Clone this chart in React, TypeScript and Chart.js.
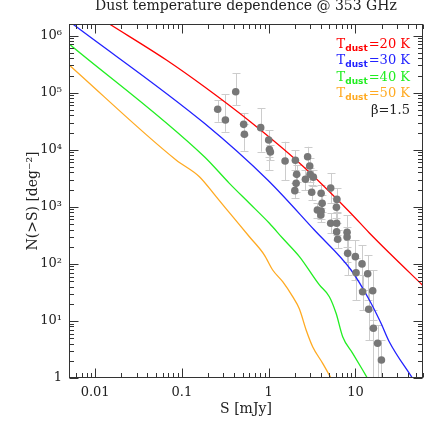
import React, { useEffect, useRef } from 'react';
import { Chart, registerables } from 'chart.js';

Chart.register(...registerables);

const TITLE = 'Dust temperature dependence @ 353 GHz';
const X_LABEL = 'S [mJy]';
const Y_LABEL = 'N(>S) [deg⁻²]';
const X_MIN = 0.005;
const X_MAX = 60;
const Y_MIN = 1;
const Y_MAX = 1.6e6;
const X_TICKS = [0.01, 0.1, 1, 10];
const X_TICK_LABELS = ['0.01', '0.1', '1', '10'];
const Y_TICKS = [1, 10, 100, 1e3, 1e4, 1e5, 1e6];
const Y_TICK_LABELS = ['1', '10¹', '10²', '10³', '10⁴', '10⁵', '10⁶'];

// Model curves
const red_S = [0.0146, 0.0663, 0.1816, 0.5995, 2.26, 8.5, 14.46, 24.6, 59];
const red_N = [1.6e6, 3.74e5, 1.27e5, 3.19e4, 5.86e3, 821, 348, 155, 42.6];

const blue_S = [0.00552, 0.1816, 0.974, 3.36, 8.9, 14.45, 19.7, 24.5, 45.2];
const blue_N = [1.6e6, 2.91e4, 2.95e3, 392, 78.1, 23.3, 9.1, 4.33, 1];

const green_S = [0.00492, 0.1816, 0.3525, 0.5995, 1.019, 1.45, 2.26, 3.84, 5.0, 5.98, 7.12, 9.29, 12.1, 13.7];
const green_N = [7.34e5, 7.56e3, 2.58e3, 1153, 514, 281, 134, 42.7, 26.6, 13.6, 5.3, 2.71, 1.38, 1];

const orange_S = [0.00492, 0.0857, 0.159, 0.248, 0.385, 0.5995, 0.892, 1.112, 1.45, 1.89, 2.26, 2.7, 3.21, 4.19, 5.23];
const orange_N = [3.15e5, 6.62e3, 3.37e3, 1505, 671, 299, 143, 78.1, 48.7, 26.6, 16.2, 6.94, 3.54, 1.81, 1];

// Observed counts with error bars
const obs_S = [0.2585, 0.317, 0.417, 0.515, 0.525, 0.809, 1.0, 1.02, 1.046, 1.545, 2.03, 2.10, 2.07, 2.00, 2.81, 2.97, 2.65, 3.0, 3.27, 3.13, 4.02, 4.13, 3.64, 4.02, 3.99, 5.18, 6.11, 6.03, 5.18, 6.07, 6.07, 6.24, 8.0, 8.0, 8.13, 9.97, 11.9, 10.16, 13.82, 12.1, 15.8, 14.2, 16.1, 18.0, 19.9];
const obs_N = [5.12e4, 3.32e4, 1.04e5, 2.79e4, 1.87e4, 2.44e4, 1.48e4, 1.01e4, 9.14e3, 6.35e3, 6.54e3, 3.71e3, 2.58e3, 1.92e3, 7.56e3, 5.19e3, 3.05e3, 3.71e3, 3.31e3, 1.80e3, 1.73e3, 1.15e3, 880, 845, 719, 2.14e3, 1.35e3, 981, 514, 514, 366, 270, 359, 296, 153, 134, 100, 70, 67.3, 32.5, 33.9, 16, 7.43, 4.06, 2.07];
const obs_lo = [3.10e4, 2.07e4, 6.09e4, 1.81e4, 9.63e3, 9.25e3, 7.56e3, 4.42e3, 6.62e3, 2.95e3, 4.42e3, 2.72e3, 1.82e3, 1.43e3, 5.05e3, 3.61e3, 1.97e3, 2.72e3, 2.32e3, 1.32e3, 1.17e3, 812, 637, 620, 542, 1.17e3, 779, 637, 348, 321, 262, 190, 108, 200, 63.8, 52.2, 34.9, 23.3, 23.3, 15.6, 10.4, 4.63, 0.5, 0.5, 0.5];
const obs_hi = [7.45e4, 9.38e4, 2.21e5, 4.35e4, 2.83e4, 5.33e4, 2.22e4, 1.48e4, 1.21e4, 1.38e4, 9.9e3, 5.41e3, 3.61e3, 2.61e3, 1.13e4, 7.18e3, 4.42e3, 4.79e3, 4.42e3, 2.41e3, 2.41e3, 1.61e3, 1.17e3, 1.1e3, 953, 3.92e3, 2.14e3, 1.43e3, 779, 812, 520, 392, 719, 450, 262, 262, 214, 127, 143, 63.8, 78.1, 34.9, 15.6, 8.49, 4.63];

const LEGEND_TEMPS = ['20 K', '30 K', '40 K', '50 K'];
const LEGEND_COLORS = ['#ff0000', '#2222ff', '#22ee22', '#ffaa22'];
const BETA_TEXT = 'β=1.5';

const SERIF = '"DejaVu Serif", serif';

const toPts = (xs: number[], ys: number[]) => xs.map((x, i) => ({ x, y: ys[i] }));

const errorBars = {
  id: 'errorBars',
  beforeDatasetsDraw(chart: any) {
    const { ctx, chartArea: a, scales } = chart;
    const xs = scales.x, ys = scales.y;
    ctx.save();
    ctx.beginPath();
    ctx.rect(a.left, a.top, a.right - a.left, a.bottom - a.top);
    ctx.clip();
    ctx.strokeStyle = '#cccccc';
    ctx.lineWidth = 1;
    for (let i = 0; i < obs_S.length; i++) {
      const px = Math.round(xs.getPixelForValue(obs_S[i])) + 0.5;
      const p1 = ys.getPixelForValue(obs_lo[i]);
      const p2 = ys.getPixelForValue(obs_hi[i]);
      ctx.beginPath();
      ctx.moveTo(px, p1);
      ctx.lineTo(px, p2);
      ctx.moveTo(px - 4, Math.round(p1) + 0.5);
      ctx.lineTo(px + 4, Math.round(p1) + 0.5);
      ctx.moveTo(px - 4, Math.round(p2) + 0.5);
      ctx.lineTo(px + 4, Math.round(p2) + 0.5);
      ctx.stroke();
    }
    ctx.restore();
  },
};

const frameTicks = {
  id: 'frameTicks',
  afterDraw(chart: any) {
    const { ctx, chartArea: a, scales } = chart;
    const xs = scales.x, ys = scales.y;
    const L = Math.round(a.left) + 0.5, R = Math.round(a.right) - 0.5;
    const T = Math.round(a.top) + 0.5, B = Math.round(a.bottom) - 0.5;
    ctx.save();
    ctx.strokeStyle = '#333333';
    ctx.lineWidth = 1;
    ctx.strokeRect(L, T, R - L, B - T);
    ctx.beginPath();
    const decades = (mn: number, mx: number) => {
      const out: [number, boolean][] = [];
      for (let k = Math.floor(Math.log10(mn)); k <= Math.ceil(Math.log10(mx)); k++) {
        for (let m = 1; m <= 9; m++) {
          const v = m * Math.pow(10, k);
          if (v >= mn * 0.999 && v <= mx * 1.001) out.push([v, m === 1]);
        }
      }
      return out;
    };
    for (const [v, major] of decades(X_MIN, X_MAX)) {
      const px = Math.round(xs.getPixelForValue(v)) + 0.5;
      const len = major ? 9 : 4.5;
      ctx.moveTo(px, B); ctx.lineTo(px, B - len);
      ctx.moveTo(px, T); ctx.lineTo(px, T + len);
    }
    for (const [v, major] of decades(Y_MIN, Y_MAX)) {
      const py = Math.round(ys.getPixelForValue(v)) + 0.5;
      const len = major ? 9 : 4.5;
      ctx.moveTo(L, py); ctx.lineTo(L + len, py);
      ctx.moveTo(R, py); ctx.lineTo(R - len, py);
    }
    ctx.stroke();

    // Legend
    const right = 410;
    let base = 47.5;
    const big = '13px ' + SERIF;
    const sub = 'bold 9px "DejaVu Sans", sans-serif';
    ctx.textBaseline = 'alphabetic';
    ctx.textAlign = 'left';
    for (let i = 0; i < LEGEND_TEMPS.length; i++) {
      const t1 = 'T', t2 = 'dust', t3 = '=' + LEGEND_TEMPS[i];
      ctx.font = big; const w1 = ctx.measureText(t1).width; const w3 = ctx.measureText(t3).width;
      ctx.font = sub; const w2 = ctx.measureText(t2).width;
      let x = right - (w1 + w2 + w3 + 1);
      ctx.fillStyle = LEGEND_COLORS[i];
      ctx.font = big; ctx.fillText(t1, x, base); x += w1;
      ctx.font = sub; ctx.fillText(t2, x, base + 3); x += w2 + 1;
      ctx.font = big; ctx.fillText(t3, x, base);
      base += 16.5;
    }
    ctx.font = big;
    ctx.fillStyle = '#222222';
    ctx.textAlign = 'right';
    ctx.fillText(BETA_TEXT, right, base);
    ctx.restore();
  },
};

export default function App() {
  const ref = useRef<HTMLCanvasElement | null>(null);
  useEffect(() => {
    if (!ref.current) return;
    const curve = (xs: number[], ys: number[], color: string) => ({
      type: 'scatter' as const,
      data: toPts(xs, ys),
      showLine: true,
      borderColor: color,
      backgroundColor: color,
      borderWidth: 1.3,
      pointRadius: 0,
      cubicInterpolationMode: 'monotone',
      order: 2,
    });
    const chart = new Chart(ref.current, {
      type: 'scatter',
      data: {
        datasets: [
          {
            data: toPts(obs_S, obs_N),
            backgroundColor: '#777777',
            borderWidth: 0,
            pointRadius: 3.8,
            order: 0,
          } as any,
          curve(red_S, red_N, LEGEND_COLORS[0]),
          curve(blue_S, blue_N, LEGEND_COLORS[1]),
          curve(green_S, green_N, LEGEND_COLORS[2]),
          curve(orange_S, orange_N, LEGEND_COLORS[3]),
        ],
      },
      options: {
        animation: false,
        responsive: false,
        devicePixelRatio: 1,
        layout: { padding: { left: 0, right: 24, top: 0, bottom: 0 } },
        plugins: {
          legend: { display: false },
          tooltip: { enabled: false },
          title: {
            display: true,
            text: TITLE,
            fullSize: false,
            color: '#222222',
            font: { family: SERIF, size: 14, weight: 'normal', lineHeight: 1 },
            padding: { top: -1, bottom: 11 },
          },
        },
        scales: {
          x: {
            type: 'logarithmic',
            min: X_MIN,
            max: X_MAX,
            grid: { display: false, drawTicks: false },
            border: { display: false },
            afterBuildTicks: (s: any) => { s.ticks = X_TICKS.map((v) => ({ value: v })); },
            afterFit: (s: any) => { s.height = 69; },
            ticks: {
              autoSkip: false,
              maxRotation: 0,
              padding: 7,
              color: '#222222',
              font: { family: SERIF, size: 13 },
              callback: (v: any) => { const i = X_TICKS.indexOf(Number(v)); return i >= 0 ? X_TICK_LABELS[i] : ''; },
            },
            title: {
              display: true,
              text: X_LABEL,
              color: '#222222',
              font: { family: SERIF, size: 14, lineHeight: 1 },
              padding: { top: 0, bottom: 31 },
            },
          },
          y: {
            type: 'logarithmic',
            min: Y_MIN,
            max: Y_MAX,
            grid: { display: false, drawTicks: false },
            border: { display: false },
            afterBuildTicks: (s: any) => { s.ticks = Y_TICKS.map((v) => ({ value: v })); },
            afterFit: (s: any) => { s.width = 69; },
            ticks: {
              autoSkip: false,
              padding: 7,
              color: '#222222',
              font: { family: SERIF, size: 13 },
              callback: (v: any) => { const i = Y_TICKS.indexOf(Number(v)); return i >= 0 ? Y_TICK_LABELS[i] : ''; },
            },
            title: {
              display: true,
              text: Y_LABEL,
              color: '#222222',
              font: { family: SERIF, size: 14, lineHeight: 1 },
              padding: { top: 26, bottom: 0 },
            },
          },
        },
      },
      plugins: [errorBars, frameTicks],
    } as any);
    return () => chart.destroy();
  }, []);
  return (
    <div style={{ position: 'absolute', left: 0, top: 0, width: 447, height: 447, background: '#fff' }}>
      <canvas ref={ref} width={447} height={447} style={{ width: 447, height: 447, display: 'block' }} />
    </div>
  );
}
